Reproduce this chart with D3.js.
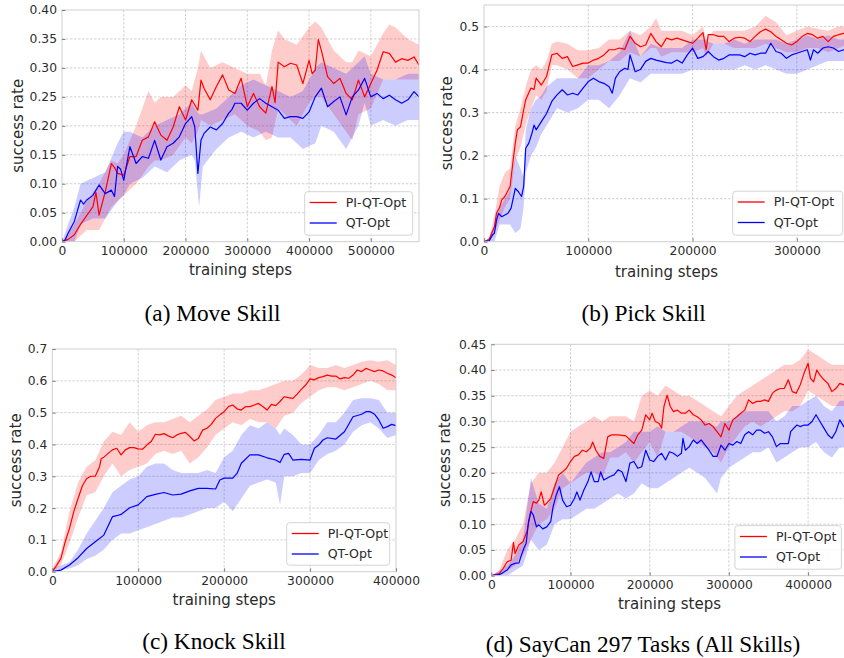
<!DOCTYPE html>
<html><head><meta charset="utf-8">
<script src="https://cdn.jsdelivr.net/npm/d3@7"></script>
<style>body{margin:0;background:#fff}svg{display:block}</style>
</head><body><svg id="c" width="844" height="658"></svg>
<script>
// ---------- DATA (steps in thousands) ----------
const seriesNames = ["PI-QT-Opt", "QT-Opt"];
const xTickLabelsA = [0,100000,200000,300000,400000,500000];
const xTickLabelsB = [0,100000,200000,300000];
const xTickLabelsC = [0,100000,200000,300000,400000];
const xTickLabelsD = [0,100000,200000,300000,400000];
const yTicksA = [0,0.05,0.10,0.15,0.20,0.25,0.30,0.35,0.40];
const yTicksB = [0,0.1,0.2,0.3,0.4,0.5];
const yTicksC = [0,0.1,0.2,0.3,0.4,0.5,0.6,0.7];
const yTicksD = [0,0.05,0.10,0.15,0.20,0.25,0.30,0.35,0.40,0.45];
const captions = ["(a) Move Skill","(b) Pick Skill","(c) Knock Skill","(d) SayCan 297 Tasks (All Skills)"];

// Move skill
const redA = [[0,0],[10,0.004],[20,0.012],[30,0.03],[40,0.045],[50,0.06],[55,0.085],[60,0.046],[70,0.086],[80,0.135],[85,0.128],[90,0.118],[100,0.115],[110,0.147],[120,0.147],[130,0.175],[140,0.181],[150,0.207],[160,0.184],[170,0.175],[180,0.198],[190,0.233],[200,0.21],[210,0.245],[220,0.227],[225,0.279],[230,0.265],[240,0.245],[250,0.268],[260,0.288],[270,0.262],[280,0.256],[290,0.282],[300,0.233],[310,0.256],[320,0.233],[330,0.222],[340,0.268],[345,0.24],[350,0.31],[360,0.302],[370,0.308],[380,0.305],[390,0.273],[400,0.313],[405,0.29],[410,0.296],[415,0.349],[420,0.33],[430,0.285],[440,0.273],[450,0.282],[460,0.256],[470,0.245],[480,0.279],[490,0.25],[500,0.273],[510,0.296],[520,0.328],[530,0.325],[540,0.31],[550,0.316],[560,0.313],[570,0.319],[578,0.305]];
const blueA = [[0,0],[5,0.003],[10,0.015],[20,0.035],[30,0.072],[35,0.065],[40,0.072],[50,0.08],[60,0.098],[70,0.083],[80,0.089],[85,0.078],[90,0.13],[95,0.125],[100,0.106],[110,0.164],[120,0.135],[130,0.147],[140,0.144],[150,0.175],[160,0.141],[170,0.164],[180,0.17],[190,0.181],[200,0.204],[210,0.216],[215,0.198],[220,0.118],[225,0.175],[230,0.187],[240,0.198],[250,0.193],[260,0.204],[270,0.222],[275,0.228],[280,0.239],[290,0.239],[300,0.227],[310,0.239],[320,0.247],[330,0.239],[340,0.233],[350,0.227],[360,0.213],[370,0.216],[380,0.216],[390,0.213],[400,0.224],[410,0.25],[420,0.265],[430,0.233],[440,0.242],[450,0.25],[460,0.219],[470,0.25],[480,0.262],[490,0.282],[500,0.25],[510,0.256],[520,0.247],[530,0.253],[540,0.245],[550,0.239],[560,0.245],[570,0.259],[578,0.25]];
const redBandA = [[0,0,0],[10,0,0.015],[20,0,0.03],[40,0.02,0.07],[60,0.02,0.1],[80,0.06,0.14],[90,0.07,0.135],[100,0.08,0.15],[120,0.1,0.2],[140,0.13,0.26],[150,0.14,0.24],[160,0.14,0.25],[180,0.15,0.25],[200,0.18,0.27],[210,0.17,0.26],[220,0.19,0.3],[225,0.21,0.33],[240,0.2,0.3],[260,0.21,0.31],[280,0.22,0.3],[300,0.2,0.29],[320,0.19,0.29],[330,0.175,0.27],[340,0.18,0.33],[350,0.23,0.365],[360,0.22,0.35],[380,0.2,0.34],[400,0.24,0.37],[410,0.25,0.38],[420,0.25,0.37],[440,0.22,0.33],[460,0.19,0.31],[470,0.175,0.31],[480,0.22,0.33],[500,0.23,0.32],[520,0.28,0.36],[530,0.28,0.375],[540,0.28,0.37],[560,0.28,0.35],[578,0.28,0.34]];
const blueBandA = [[0,0,0],[10,0,0.03],[20,0,0.06],[30,0.03,0.1],[50,0.04,0.11],[70,0.04,0.12],[90,0.07,0.17],[100,0.08,0.19],[110,0.1,0.19],[130,0.11,0.18],[150,0.13,0.2],[170,0.12,0.21],[190,0.14,0.22],[210,0.15,0.24],[215,0.14,0.23],[222,0.06,0.22],[228,0.13,0.22],[250,0.16,0.23],[270,0.18,0.25],[290,0.19,0.27],[310,0.18,0.28],[330,0.19,0.27],[350,0.18,0.26],[370,0.18,0.25],[390,0.16,0.26],[410,0.17,0.3],[420,0.2,0.31],[440,0.19,0.3],[460,0.16,0.29],[480,0.2,0.31],[490,0.24,0.32],[500,0.2,0.29],[520,0.21,0.28],[540,0.2,0.28],[560,0.21,0.29],[578,0.21,0.29]];

// Pick skill
const redB = [[0,0],[5,0.005],[10,0.035],[12,0.066],[15,0.08],[17,0.097],[20,0.105],[25,0.128],[28,0.19],[30,0.229],[32,0.26],[35,0.267],[38,0.306],[40,0.33],[45,0.357],[48,0.354],[50,0.38],[55,0.364],[60,0.384],[65,0.434],[70,0.438],[75,0.426],[80,0.43],[85,0.407],[90,0.411],[95,0.415],[100,0.415],[105,0.422],[110,0.426],[115,0.434],[120,0.446],[125,0.446],[130,0.45],[135,0.447],[140,0.477],[145,0.461],[150,0.453],[155,0.457],[160,0.484],[165,0.465],[170,0.453],[175,0.473],[180,0.469],[185,0.473],[190,0.469],[195,0.465],[200,0.461],[205,0.473],[210,0.486],[213,0.446],[215,0.481],[220,0.481],[225,0.477],[230,0.477],[235,0.465],[240,0.473],[245,0.475],[250,0.473],[255,0.465],[260,0.477],[265,0.488],[270,0.494],[275,0.488],[280,0.477],[285,0.469],[290,0.461],[295,0.457],[300,0.465],[305,0.477],[310,0.484],[315,0.481],[320,0.473],[325,0.477],[330,0.465],[335,0.477],[340,0.481],[345,0.484],[350,0.482]];
const blueB = [[0,0],[5,0.002],[8,0.015],[10,0.02],[12,0.05],[14,0.066],[17,0.058],[20,0.062],[23,0.066],[26,0.078],[30,0.124],[33,0.116],[36,0.105],[38,0.128],[40,0.217],[43,0.229],[46,0.252],[48,0.271],[50,0.26],[55,0.279],[60,0.298],[65,0.326],[70,0.341],[75,0.353],[80,0.341],[85,0.345],[90,0.341],[95,0.357],[100,0.372],[105,0.38],[110,0.372],[115,0.368],[120,0.36],[123,0.345],[126,0.38],[130,0.395],[135,0.403],[138,0.4],[140,0.434],[145,0.395],[150,0.4],[155,0.419],[160,0.426],[165,0.422],[170,0.419],[175,0.416],[180,0.415],[185,0.422],[190,0.415],[195,0.434],[200,0.45],[205,0.426],[210,0.43],[215,0.442],[220,0.43],[225,0.422],[230,0.426],[235,0.434],[240,0.434],[245,0.434],[250,0.43],[255,0.438],[260,0.434],[265,0.438],[270,0.438],[275,0.461],[280,0.442],[285,0.438],[290,0.426],[295,0.434],[300,0.438],[305,0.442],[310,0.446],[313,0.422],[316,0.446],[320,0.438],[325,0.45],[330,0.453],[335,0.45],[340,0.442],[345,0.446],[350,0.443]];
const redBandB = [[0,0,0],[5,0,0.01],[10,0.02,0.06],[15,0.05,0.13],[20,0.08,0.16],[25,0.1,0.17],[30,0.19,0.27],[35,0.22,0.31],[40,0.27,0.36],[45,0.31,0.4],[50,0.34,0.41],[55,0.33,0.4],[60,0.35,0.42],[65,0.41,0.46],[70,0.41,0.465],[80,0.4,0.46],[90,0.38,0.445],[100,0.38,0.445],[110,0.4,0.45],[120,0.42,0.47],[130,0.42,0.47],[140,0.44,0.49],[150,0.43,0.48],[160,0.45,0.5],[165,0.45,0.52],[170,0.43,0.49],[180,0.44,0.49],[190,0.44,0.49],[200,0.44,0.48],[210,0.45,0.5],[213,0.43,0.47],[220,0.46,0.49],[230,0.46,0.49],[240,0.45,0.49],[250,0.45,0.49],[260,0.45,0.5],[270,0.46,0.525],[280,0.45,0.51],[290,0.44,0.48],[300,0.44,0.49],[310,0.45,0.5],[320,0.45,0.495],[330,0.44,0.49],[340,0.45,0.5],[350,0.46,0.5]];
const blueBandB = [[0,0,0],[5,0,0.01],[10,0,0.04],[15,0.04,0.08],[20,0.04,0.1],[25,0.04,0.12],[30,0.02,0.2],[35,0.03,0.17],[38,0.08,0.15],[40,0.16,0.26],[45,0.2,0.31],[50,0.22,0.33],[55,0.25,0.34],[60,0.27,0.36],[70,0.31,0.38],[80,0.3,0.38],[90,0.31,0.38],[100,0.33,0.41],[110,0.33,0.41],[120,0.31,0.42],[130,0.34,0.44],[140,0.38,0.49],[150,0.37,0.43],[160,0.39,0.46],[170,0.39,0.45],[180,0.39,0.45],[190,0.39,0.45],[200,0.4,0.47],[210,0.4,0.47],[220,0.4,0.46],[230,0.4,0.46],[240,0.4,0.47],[250,0.41,0.46],[260,0.4,0.47],[270,0.41,0.47],[280,0.4,0.47],[290,0.39,0.46],[300,0.39,0.47],[310,0.4,0.48],[320,0.41,0.47],[330,0.42,0.48],[340,0.42,0.47],[350,0.42,0.47]];

// Knock skill
const redC = [[0,0],[5,0.02],[10,0.042],[15,0.094],[20,0.136],[25,0.189],[30,0.23],[35,0.27],[40,0.293],[45,0.3],[50,0.3],[55,0.33],[57,0.356],[60,0.36],[65,0.372],[70,0.383],[75,0.388],[80,0.367],[85,0.383],[90,0.39],[95,0.39],[100,0.386],[105,0.385],[110,0.398],[115,0.409],[120,0.432],[125,0.43],[130,0.434],[135,0.427],[140,0.421],[145,0.43],[150,0.435],[155,0.438],[160,0.425],[165,0.411],[170,0.419],[175,0.445],[180,0.451],[185,0.463],[190,0.482],[195,0.493],[200,0.503],[205,0.519],[210,0.524],[215,0.512],[220,0.508],[225,0.519],[230,0.519],[235,0.524],[240,0.529],[245,0.519],[250,0.508],[255,0.526],[260,0.522],[265,0.535],[270,0.55],[275,0.547],[280,0.545],[285,0.558],[290,0.574],[295,0.587],[300,0.606],[305,0.603],[310,0.61],[315,0.613],[320,0.618],[325,0.615],[330,0.615],[335,0.606],[340,0.61],[345,0.608],[350,0.618],[355,0.634],[360,0.629],[365,0.639],[370,0.634],[375,0.629],[380,0.634],[385,0.631],[390,0.624],[395,0.618],[400,0.61]];
const blueC = [[0,0],[10,0.005],[20,0.021],[30,0.044],[40,0.073],[50,0.094],[60,0.115],[70,0.173],[75,0.176],[80,0.18],[90,0.201],[100,0.21],[110,0.236],[120,0.243],[130,0.249],[140,0.241],[150,0.244],[160,0.254],[170,0.262],[180,0.262],[190,0.26],[195,0.288],[200,0.294],[210,0.294],[215,0.309],[220,0.341],[230,0.367],[240,0.367],[250,0.358],[260,0.351],[265,0.343],[270,0.369],[275,0.372],[280,0.351],[290,0.353],[300,0.351],[305,0.388],[310,0.398],[315,0.414],[320,0.421],[330,0.417],[340,0.44],[350,0.487],[360,0.495],[365,0.503],[370,0.503],[375,0.495],[380,0.477],[385,0.451],[390,0.456],[395,0.463],[400,0.459]];
const redBandC = [[0,0,0.01],[10,0.02,0.06],[20,0.09,0.19],[30,0.17,0.28],[40,0.24,0.33],[50,0.25,0.35],[60,0.3,0.41],[70,0.34,0.44],[80,0.3,0.43],[90,0.32,0.47],[100,0.33,0.44],[110,0.34,0.46],[120,0.37,0.47],[130,0.38,0.47],[140,0.37,0.48],[150,0.38,0.49],[160,0.34,0.47],[170,0.36,0.49],[180,0.39,0.51],[190,0.43,0.54],[200,0.45,0.55],[210,0.47,0.56],[220,0.46,0.56],[230,0.48,0.57],[240,0.47,0.57],[250,0.47,0.58],[260,0.45,0.59],[270,0.49,0.6],[280,0.5,0.6],[290,0.53,0.62],[300,0.55,0.65],[310,0.57,0.64],[320,0.58,0.64],[330,0.58,0.65],[340,0.57,0.64],[350,0.58,0.65],[360,0.59,0.66],[370,0.6,0.665],[380,0.59,0.66],[390,0.57,0.665],[400,0.57,0.65]];
const blueBandC = [[0,0,0.01],[20,0.01,0.03],[30,0.02,0.07],[40,0.04,0.12],[50,0.05,0.16],[60,0.07,0.2],[70,0.1,0.25],[80,0.12,0.27],[90,0.12,0.29],[100,0.13,0.3],[110,0.14,0.33],[120,0.15,0.34],[130,0.16,0.34],[140,0.17,0.32],[150,0.17,0.31],[160,0.18,0.31],[170,0.19,0.31],[180,0.2,0.32],[190,0.2,0.31],[200,0.22,0.36],[210,0.19,0.38],[220,0.23,0.43],[230,0.27,0.46],[240,0.28,0.45],[250,0.29,0.47],[260,0.28,0.45],[265,0.21,0.43],[270,0.3,0.45],[280,0.3,0.43],[290,0.31,0.4],[300,0.31,0.4],[310,0.35,0.43],[320,0.37,0.47],[330,0.38,0.47],[340,0.4,0.5],[350,0.44,0.54],[360,0.46,0.545],[370,0.47,0.545],[380,0.45,0.54],[390,0.42,0.5],[400,0.43,0.5]];

// SayCan 297 tasks
const redD = [[0,0],[10,0.004],[15,0.014],[20,0.027],[25,0.03],[28,0.065],[30,0.043],[35,0.06],[40,0.066],[45,0.086],[50,0.125],[53,0.144],[57,0.141],[60,0.147],[63,0.163],[67,0.137],[70,0.141],[75,0.15],[80,0.173],[85,0.196],[90,0.202],[95,0.209],[100,0.222],[105,0.232],[110,0.235],[115,0.244],[120,0.241],[125,0.248],[128,0.26],[132,0.244],[137,0.232],[142,0.228],[147,0.27],[152,0.274],[160,0.274],[170,0.272],[180,0.257],[185,0.274],[190,0.283],[195,0.313],[200,0.303],[203,0.316],[207,0.3],[212,0.296],[215,0.287],[218,0.329],[222,0.351],[226,0.329],[230,0.319],[235,0.322],[240,0.316],[245,0.316],[250,0.322],[255,0.313],[260,0.309],[265,0.303],[270,0.293],[275,0.296],[280,0.29],[285,0.28],[290,0.27],[295,0.296],[300,0.283],[305,0.303],[310,0.309],[315,0.316],[320,0.322],[325,0.342],[330,0.335],[335,0.339],[340,0.339],[345,0.342],[350,0.339],[355,0.355],[360,0.361],[365,0.364],[370,0.364],[375,0.381],[380,0.358],[385,0.355],[390,0.371],[395,0.394],[400,0.413],[403,0.384],[407,0.377],[411,0.4],[415,0.39],[420,0.381],[425,0.374],[430,0.358],[435,0.364],[440,0.374],[445,0.371],[450,0.378]];
const blueD = [[0,0],[10,0.002],[15,0.006],[20,0.011],[25,0.021],[30,0.024],[35,0.025],[38,0.04],[41,0.053],[44,0.063],[47,0.105],[50,0.125],[53,0.118],[57,0.095],[60,0.099],[65,0.091],[70,0.095],[75,0.105],[78,0.134],[82,0.157],[86,0.173],[90,0.147],[95,0.134],[100,0.137],[105,0.15],[108,0.163],[112,0.147],[117,0.167],[122,0.183],[126,0.202],[130,0.183],[135,0.183],[138,0.202],[142,0.186],[150,0.193],[155,0.196],[160,0.206],[165,0.202],[170,0.183],[175,0.219],[180,0.222],[185,0.209],[190,0.212],[195,0.244],[200,0.225],[205,0.222],[210,0.232],[215,0.238],[220,0.225],[225,0.241],[230,0.238],[235,0.232],[240,0.238],[242,0.267],[245,0.244],[250,0.251],[255,0.264],[260,0.257],[265,0.264],[270,0.254],[275,0.244],[280,0.232],[285,0.232],[290,0.254],[295,0.244],[300,0.257],[305,0.254],[310,0.261],[315,0.257],[320,0.274],[325,0.28],[330,0.274],[335,0.283],[340,0.283],[345,0.277],[350,0.28],[355,0.27],[360,0.251],[365,0.257],[370,0.257],[375,0.257],[378,0.28],[382,0.287],[386,0.293],[390,0.29],[395,0.293],[400,0.293],[405,0.3],[410,0.313],[415,0.3],[420,0.287],[425,0.274],[430,0.267],[435,0.28],[440,0.303],[445,0.29],[450,0.295]];
const redBandD = [[0,0,0],[10,0,0.01],[20,0.01,0.05],[30,0.02,0.07],[40,0.04,0.1],[50,0.07,0.18],[60,0.1,0.2],[70,0.11,0.2],[80,0.13,0.22],[90,0.17,0.25],[100,0.18,0.28],[110,0.19,0.29],[120,0.2,0.3],[130,0.2,0.31],[140,0.19,0.3],[150,0.23,0.31],[160,0.23,0.31],[170,0.24,0.31],[180,0.22,0.3],[190,0.24,0.35],[200,0.26,0.36],[210,0.23,0.35],[220,0.28,0.37],[230,0.28,0.36],[240,0.28,0.35],[250,0.27,0.35],[260,0.26,0.34],[270,0.25,0.33],[280,0.24,0.32],[290,0.22,0.31],[300,0.25,0.33],[310,0.27,0.35],[320,0.29,0.36],[330,0.3,0.37],[340,0.29,0.38],[350,0.3,0.39],[360,0.31,0.4],[370,0.32,0.41],[380,0.32,0.41],[390,0.33,0.42],[400,0.36,0.44],[410,0.35,0.43],[420,0.34,0.42],[430,0.33,0.41],[440,0.33,0.41],[450,0.33,0.41]];
const blueBandD = [[0,0,0],[20,0,0.02],[30,0.01,0.04],[40,0.02,0.07],[50,0.07,0.19],[60,0.05,0.14],[70,0.06,0.13],[80,0.1,0.18],[90,0.11,0.2],[100,0.11,0.18],[110,0.12,0.2],[120,0.13,0.22],[130,0.13,0.23],[140,0.14,0.24],[150,0.15,0.24],[160,0.16,0.25],[170,0.15,0.26],[180,0.16,0.28],[190,0.18,0.28],[200,0.17,0.28],[210,0.17,0.29],[220,0.18,0.28],[230,0.19,0.28],[240,0.2,0.29],[250,0.21,0.3],[260,0.2,0.3],[270,0.19,0.3],[280,0.17,0.29],[285,0.16,0.29],[290,0.19,0.3],[300,0.21,0.3],[310,0.22,0.31],[320,0.23,0.32],[330,0.24,0.32],[340,0.24,0.32],[350,0.25,0.32],[360,0.22,0.3],[370,0.23,0.31],[380,0.24,0.33],[390,0.25,0.33],[400,0.25,0.34],[410,0.26,0.35],[420,0.24,0.33],[430,0.23,0.32],[440,0.25,0.34],[450,0.25,0.34]];

// ---------- LAYOUT ----------
const panels = [
  {left:62, right:419, top:10, bottom:241.7, xMax:578000, yMax:0.40, xTicks:xTickLabelsA, yTicks:yTicksA, fmt:".2f",
   ylabX:17.5, xlabY:270, legW:108, legH:43.5, capX:212.5, capY:321, cap:captions[0],
   red:redA, blue:blueA, redBand:redBandA, blueBand:blueBandA},
  {left:484, right:849, top:5, bottom:241.7, xMax:350000, yMax:0.55, xTicks:xTickLabelsB, yTicks:yTicksB, fmt:".1f",
   ylabX:447, xlabY:271.5, legW:110, legH:44, capX:643.7, capY:321, cap:captions[1],
   red:redB, blue:blueB, redBand:redBandB, blueBand:blueBandB},
  {left:52.3, right:396, top:349, bottom:571.7, xMax:400000, yMax:0.70, xTicks:xTickLabelsC, yTicks:yTicksC, fmt:".1f",
   ylabX:15.7, xlabY:600, legW:103, legH:42.5, capX:214, capY:648.5, cap:captions[2],
   red:redC, blue:blueC, redBand:redBandC, blueBand:blueBandC},
  {left:491.3, right:847.7, top:344.3, bottom:575.7, xMax:450000, yMax:0.45, xTicks:xTickLabelsD, yTicks:yTicksD, fmt:".2f",
   ylabX:445, xlabY:604, legW:106.5, legH:43.5, capX:643, capY:651.5, cap:captions[3],
   red:redD, blue:blueD, redBand:redBandD, blueBand:blueBandD}
];

const RED = "#ff0000", BLUE = "#0000ff";
const svg = d3.select("#c");
svg.append("rect").attr("width",844).attr("height",658).attr("fill","#fff");
const defs = svg.append("defs");
const FONT = "DejaVu Sans, sans-serif";
const TXT = "#2b2b2b";

panels.forEach((p, i) => {
  const x = d3.scaleLinear().domain([0, p.xMax]).range([p.left, p.right]);
  const y = d3.scaleLinear().domain([0, p.yMax]).range([p.bottom, p.top]);
  const W = p.right - p.left, H = p.bottom - p.top;
  defs.append("clipPath").attr("id", "clip" + i)
    .append("rect").attr("x", p.left).attr("y", p.top).attr("width", W).attr("height", H);
  const g = svg.append("g");

  // grid
  const grid = g.append("g").attr("stroke", "#c4c4c4").attr("stroke-width", 0.8).attr("stroke-dasharray", "2.4,1.6");
  grid.selectAll(".vx").data(p.xTicks.filter(t => t > 0 && t < p.xMax)).join("line")
    .attr("x1", d => x(d)).attr("x2", d => x(d)).attr("y1", p.top).attr("y2", p.bottom);
  grid.selectAll(".hy").data(p.yTicks.filter(t => t > 0 && t < p.yMax)).join("line")
    .attr("x1", p.left).attr("x2", p.right).attr("y1", d => y(d)).attr("y2", d => y(d));

  const plot = g.append("g").attr("clip-path", `url(#clip${i})`);
  const area = d3.area().x(d => x(d[0] * 1000)).y0(d => y(d[1])).y1(d => y(d[2]));
  const line = d3.line().x(d => x(d[0] * 1000)).y(d => y(d[1]));
  plot.append("path").datum(p.redBand).attr("d", area).attr("fill", RED).attr("fill-opacity", 0.2);
  plot.append("path").datum(p.blueBand).attr("d", area).attr("fill", BLUE).attr("fill-opacity", 0.2);
  plot.append("path").datum(p.red).attr("d", line).attr("fill", "none").attr("stroke", RED)
    .attr("stroke-width", 1.2).attr("stroke-linejoin", "round");
  plot.append("path").datum(p.blue).attr("d", line).attr("fill", "none").attr("stroke", BLUE)
    .attr("stroke-width", 1.2).attr("stroke-linejoin", "round");

  // frame
  g.append("rect").attr("x", p.left).attr("y", p.top).attr("width", W).attr("height", H)
    .attr("fill", "none").attr("stroke", "#cfcfcf").attr("stroke-width", 1);

  // axes (ticks inward)
  const ax = g.append("g").attr("transform", `translate(0,${p.bottom})`)
    .call(d3.axisBottom(x).tickValues(p.xTicks).tickSize(-3.5).tickPadding(4.3).tickFormat(d3.format("d")));
  const ay = g.append("g").attr("transform", `translate(${p.left},0)`)
    .call(d3.axisLeft(y).tickValues(p.yTicks).tickSize(-3.5).tickPadding(5).tickFormat(d3.format(p.fmt)));
  [ax, ay].forEach(a => {
    a.select(".domain").remove();
    a.selectAll(".tick line").attr("stroke", "#777").attr("stroke-width", 0.9);
    a.selectAll(".tick text").attr("fill", TXT).attr("font-family", FONT).attr("font-size", 12.3);
  });

  // axis labels
  g.append("text").attr("x", (p.left + p.right) / 2).attr("y", p.xlabY)
    .attr("text-anchor", "middle").attr("dominant-baseline", "central")
    .attr("font-family", FONT).attr("font-size", 15).attr("fill", TXT).text("training steps");
  g.append("text").attr("transform", `translate(${p.ylabX},${(p.top + p.bottom) / 2}) rotate(-90)`)
    .attr("text-anchor", "middle").attr("dominant-baseline", "central")
    .attr("font-family", FONT).attr("font-size", 15).attr("fill", TXT).text("success rate");

  // legend
  const lx = p.right - 6.3 - p.legW, ly = p.bottom - 6.5 - p.legH;
  const lg = g.append("g").attr("transform", `translate(${lx},${ly})`);
  lg.append("rect").attr("width", p.legW).attr("height", p.legH).attr("rx", 3)
    .attr("fill", "#fff").attr("fill-opacity", 0.85).attr("stroke", "#d4d4d4").attr("stroke-width", 1);
  [RED, BLUE].forEach((c, k) => {
    const yy = 10.8 + k * 20.5;
    lg.append("line").attr("x1", 5).attr("x2", 32).attr("y1", yy).attr("y2", yy)
      .attr("stroke", c).attr("stroke-width", 1.3);
    lg.append("text").attr("x", 41).attr("y", yy).attr("dominant-baseline", "central")
      .attr("font-family", FONT).attr("font-size", 12.6).attr("fill", TXT).text(seriesNames[k]);
  });

  // caption
  svg.append("text").attr("x", p.capX).attr("y", p.capY).attr("text-anchor", "middle")
    .attr("font-family", "Liberation Serif, Times New Roman, serif").attr("font-size", 23.3)
    .attr("fill", "#000").text(p.cap);
});
</script></body></html>
